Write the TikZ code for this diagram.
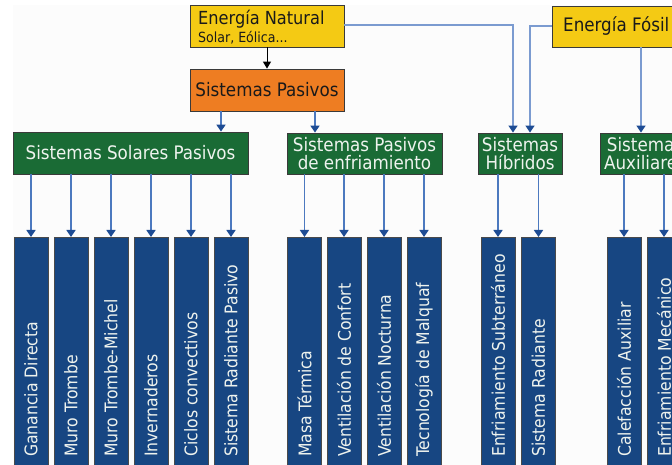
\documentclass[tikz,border=0pt]{standalone}
\usepackage{fontspec}
\setmainfont{DejaVu Sans Condensed}
\usetikzlibrary{arrows.meta}
\definecolor{bgc}{HTML}{FCFCFC}
\definecolor{yel}{HTML}{F4CA14}
\definecolor{ora}{HTML}{EE7D22}
\definecolor{grn}{HTML}{1A6B35}
\definecolor{blu}{HTML}{174682}
\definecolor{bbord}{HTML}{4A4A4A}
\definecolor{edgec}{HTML}{3A3A3A}
\definecolor{linb}{HTML}{4C79BF}
\definecolor{linl}{HTML}{7B9BD0}
\definecolor{tipb}{HTML}{1E4C94}
\definecolor{txtw}{HTML}{EEF3EE}
\definecolor{txtk}{HTML}{1A1A1A}
\begin{document}
\begin{tikzpicture}[x=1pt,y=-1pt,
  boxbase/.style={draw=edgec, line width=0.8pt, inner sep=0pt, minimum height=42pt},
  ybox/.style={boxbase, fill=yel},
  obox/.style={boxbase, fill=ora, text=txtk, font=\fontsize{18.6}{20}\selectfont},
  gbox/.style={boxbase, fill=grn, text=txtw, align=center,
     font=\fontsize{18.6}{17.5}\selectfont},
  bbox/.style={draw=bbord, line width=0.8pt, fill=blu, minimum width=34pt,
     minimum height=240pt, anchor=north, inner sep=0pt},
  btext/.style={text=txtw, rotate=90, anchor=west, inner sep=0pt,
     font=\fontsize{17.4}{18}\selectfont},
  arr/.style={draw=linb, line width=1.6pt,
     -{Triangle[width=9pt,length=7pt,fill=tipb,color=tipb]}},
  arrl/.style={draw=linl, line width=1.4pt,
     -{Triangle[width=9pt,length=7pt,fill=tipb,color=tipb]}},
  karr/.style={draw=black, line width=1pt,
     -{Triangle[width=8pt,length=7pt]}}
]
\useasboundingbox (0,0) rectangle (672,465);
\clip (0,0) rectangle (672,465);
\fill[white] (0,0) rectangle (672,465);
\fill[bgc] (13,5) rectangle (672,465);

% top boxes
\node[ybox, minimum width=154pt] (nat) at (267,26) {};
\node[anchor=base west, inner sep=0pt, text=txtk, font=\fontsize{18}{20}\selectfont] (natt) at (198,25) {Energía Natural};
\node[anchor=base west, inner sep=0pt, text=txtk, font=\fontsize{14}{16}\selectfont] (nats) at (198,43) {Solar, Eólica...};
\node[ybox, minimum width=188pt, minimum height=41pt] (fos) at (646,26.5) {};
\node[anchor=base west, inner sep=0pt, text=txtk, font=\fontsize{18.6}{20}\selectfont] (fost) at (563,32) {Energía Fósil};

\node[obox, minimum width=154pt] (pas) at (267,90) {Sistemas Pasivos};

% green boxes
\node[gbox, minimum width=235pt] (sol) at (130.5,153) {Sistemas Solares Pasivos};
\node[gbox, minimum width=155pt, minimum height=41pt] (enf) at (364.5,153.5) {Sistemas Pasivos\\de enfriamiento};
\node[gbox, minimum width=84pt, minimum height=41pt] (hib) at (520,153.5) {Sistemas\\Híbridos};
\node[gbox, minimum width=90pt, minimum height=41pt] (aux) at (645,153.5) {Sistemas\\Auxiliares};

% blue boxes
\foreach \n/\x/\t in {b1/31/Ganancia Directa, b2/71/Muro Trombe, b3/111/Muro Trombe-Michel,
  b4/151/Invernaderos, b5/191/Ciclos convectivos, b6/231/Sistema Radiante Pasivo,
  c1/304.5/Masa Térmica, c2/344/Ventilación de Confort, c3/384/Ventilación Nocturna,
  c4/424/Tecnología de Malquaf, h1/498/Enfriamiento Subterráneo, h2/538.5/Sistema Radiante,
  a1/624/Calefacción Auxiliar, a2/664/Enfriamiento Mecánico}{
  \node[bbox] (\n) at (\x,237) {};
  \node[btext] (\n t) at (\x,457) {\t};
}

% connectors
\draw[karr] (nat.south) -- (pas.north);
\coordinate (xs) at (221,0);
\coordinate (xe) at (315,0);
\draw[arr] (pas.south -| xs) -- (sol.north -| xs);
\draw[arr] (pas.south -| xe) -- (enf.north -| xe);
\foreach \n in {b1,b2,b3,b4,b5,b6}{\draw[arr] (sol.south -| \n.north) -- (\n.north);}
\foreach \n in {c1,c2,c3,c4}{\draw[arr] (enf.south -| \n.north) -- (\n.north);}
\foreach \n in {h1,h2}{\draw[arr] (hib.south -| \n.north) -- (\n.north);}
\foreach \n in {a1,a2}{\draw[arr] (aux.south -| \n.north) -- (\n.north);}

\coordinate (xh1) at (513,25);
\coordinate (xh2) at (530,26);
\coordinate (xf) at (641,0);
\draw[arrl] (nat.east |- xh1) -- (xh1) -- (hib.north -| xh1);
\draw[arrl] (fos.west |- xh2) -- (xh2) -- (hib.north -| xh2);
\draw[arrl] (fos.south -| xf) -- (aux.north -| xf);
\end{tikzpicture}
\end{document}
